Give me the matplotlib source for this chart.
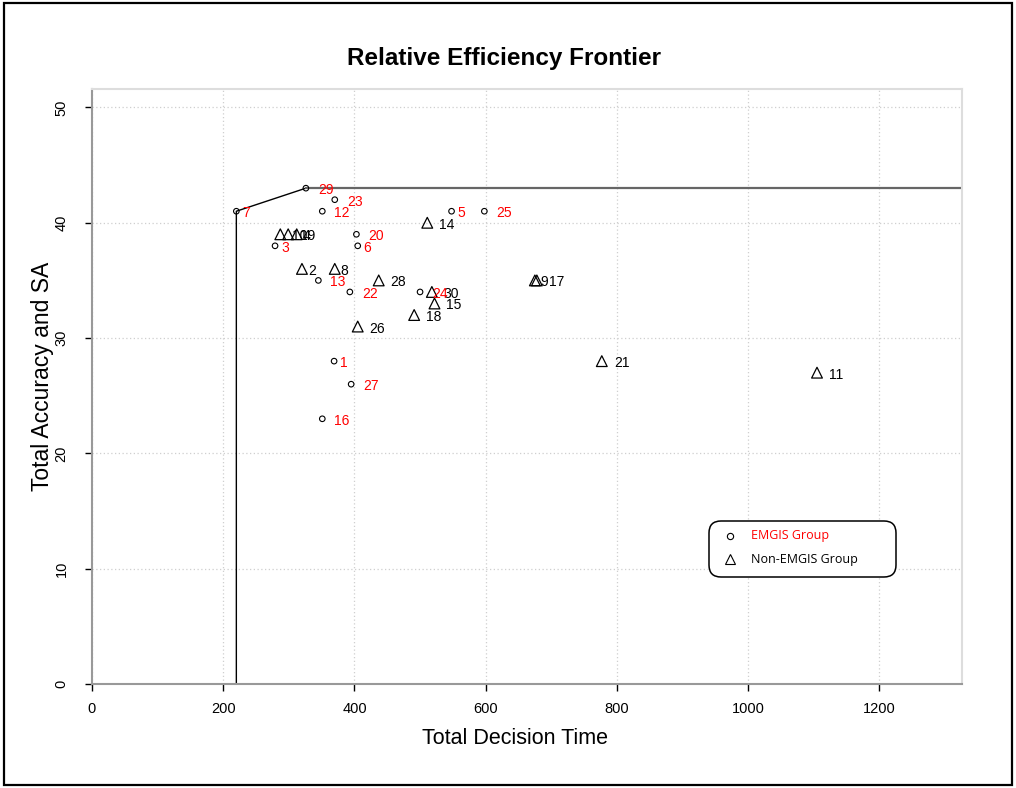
import matplotlib
matplotlib.use("Agg")
import matplotlib.pyplot as plt
from matplotlib.patches import FancyBboxPatch, Rectangle
from matplotlib.transforms import IdentityTransform

plt.rcParams['font.family'] = ['Liberation Sans', 'DejaVu Sans']

# EMGIS group (circles, red labels)
emgis_id = [1, 3, 5, 6, 7, 12, 13, 16, 20, 22, 23, 24, 25, 27, 29]
emgis_time = [369, 279, 548, 405, 220, 351, 345, 351, 403, 393, 370, 500, 598, 395, 326]
emgis_score = [28, 38, 41, 38, 41, 41, 35, 23, 39, 34, 42, 34, 41, 26, 43]

# Non-EMGIS group (triangles, black labels)
non_id = [2, 4, 8, 9, 10, 11, 14, 15, 17, 18, 19, 21, 26, 28, 30]
non_time = [320, 312, 370, 675, 287, 1105, 511, 522, 678, 491, 299, 777, 405, 437, 518]
non_score = [36, 39, 36, 35, 39, 27, 40, 33, 35, 32, 39, 28, 31, 35, 34]

x_ticks = [0, 200, 400, 600, 800, 1000, 1200]
y_ticks = [0, 10, 20, 30, 40, 50]

xmax = max(emgis_time + non_time) * 1.2
ymax = max(emgis_score + non_score) * 1.2

fig = plt.figure(figsize=(10.16, 7.88), dpi=100)
ax = fig.add_axes([92 / 1016, 1 - 684 / 788, (962 - 92) / 1016, (684 - 89) / 788])

ax.set_xlim(0, xmax)
ax.set_ylim(0, ymax)
ax.set_xticks(x_ticks)
ax.set_yticks(y_ticks)
ax.grid(True, color='#cfcfcf', linestyle=(0, (1, 2)), linewidth=0.9)
ax.set_axisbelow(True)

for side in ['top', 'right']:
    ax.spines[side].set_color('#dddddd')
    ax.spines[side].set_linewidth(1.5)
for side in ['left', 'bottom']:
    ax.spines[side].set_color('#999999')
    ax.spines[side].set_linewidth(1.5)

ax.tick_params(direction='out', length=5, width=1, color='black', labelsize=10.5)
ax.tick_params(axis='x', pad=8)
ax.tick_params(axis='y', pad=12)
for lab in ax.get_yticklabels():
    lab.set_rotation(90)
    lab.set_va('center')

# frontier: vertical at the fastest unit, up to the best score, then flat
i7 = emgis_id.index(7)
i29 = emgis_id.index(29)
ax.plot([emgis_time[i7], emgis_time[i7], emgis_time[i29]],
        [0, emgis_score[i7], emgis_score[i29]], color='black', lw=1, zorder=2)
ax.plot([emgis_time[i29], xmax], [emgis_score[i29], emgis_score[i29]],
        color='#666666', lw=1.6, zorder=2)

ax.scatter(emgis_time, emgis_score, marker='o', s=16, facecolors='none',
           edgecolors='black', linewidths=0.8, zorder=3)
ax.scatter(non_time, non_score, marker='^', s=60, facecolors='none',
           edgecolors='black', linewidths=0.9, zorder=3)

def put_labels(ids, xs, ys, color):
    for n, x, y in zip(ids, xs, ys):
        off = 6 if n < 10 else 12
        ax.annotate(str(n), (x, y), xytext=(off, -2), textcoords='offset pixels',
                    ha='left', va='center', fontsize=10, color=color, zorder=4)

put_labels(non_id, non_time, non_score, 'black')
put_labels(emgis_id, emgis_time, emgis_score, 'red')

fig.text(0.496, 1 - 58 / 788, 'Relative Efficiency Frontier', ha='center', va='center',
         fontsize=17.5, fontweight='bold')
fig.text(515 / 1016, 1 - 739 / 788, 'Total Decision Time', ha='center', va='center', fontsize=15.5)
fig.text(43 / 1016, 1 - 376 / 788, 'Total Accuracy and SA', ha='center', va='center',
         fontsize=16.5, rotation=90)

# legend box
H = 788
box = FancyBboxPatch((709, H - 577), 187, 56, boxstyle='round,pad=0,rounding_size=12',
                     transform=IdentityTransform(), facecolor='white', edgecolor='black',
                     lw=1.1, zorder=5)
fig.patches.append(box)
fig.lines.append(plt.Line2D([730], [H - 536], marker='o', ms=4.5, mfc='none', mec='black',
                            mew=0.8, transform=IdentityTransform(), zorder=6))
fig.lines.append(plt.Line2D([730], [H - 559], marker='^', ms=7, mfc='none', mec='black',
                            mew=0.8, transform=IdentityTransform(), zorder=6))
fig.text(751 / 1016, 1 - 536 / H, 'EMGIS Group', color='red', fontsize=9,
         va='center', ha='left', family=['Open Sans', 'DejaVu Sans'], zorder=6)
fig.text(751 / 1016, 1 - 559 / H, 'Non-EMGIS Group', color='black', fontsize=9,
         va='center', ha='left', family=['Open Sans', 'DejaVu Sans'], zorder=6)

# outer frame
fig.patches.append(Rectangle((4, 3), 1008, 782, transform=IdentityTransform(),
                             fill=False, edgecolor='black', lw=1.6))

fig.savefig('out.png', dpi=100)
